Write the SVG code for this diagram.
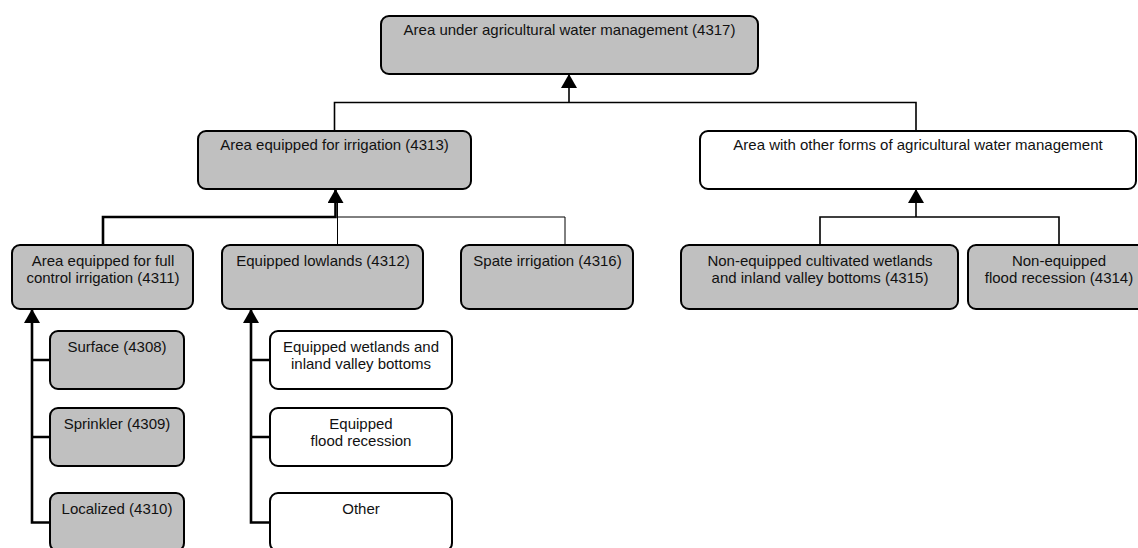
<svg xmlns="http://www.w3.org/2000/svg" width="1138" height="548" viewBox="0 0 1138 548">
  <defs>
    <marker id="arrow" markerUnits="userSpaceOnUse" markerWidth="16" markerHeight="16" viewBox="0 0 14 16" refX="14" refY="8" orient="auto">
      <path d="M0,0 L14,8 L0,16 z" fill="#000"/>
    </marker>
    <style>
      .box { stroke: #000; stroke-width: 2; }
      .gray { fill: #c0c0c0; }
      .white { fill: #ffffff; }
      text { font-family: "Liberation Sans", Arial, sans-serif; font-size: 15px; fill: #111; text-anchor: middle; }
      .c1 { fill: none; stroke: #000; stroke-width: 1; }
      .c2 { fill: none; stroke: #000; stroke-width: 1.6; }
      .c3 { fill: none; stroke: #000; stroke-width: 2.6; }
    </style>
  </defs>
  <rect width="1138" height="548" fill="#fff"/>

  <g id="connectors">
    <path class="c2" d="M334.5,131 V102.5 H916 V131"/>
    <path class="c2" d="M569,102.5 V74" marker-end="url(#arrow)"/>
    <path class="c1" d="M565,245 V217 H337.5"/>
    <path class="c1" d="M337.5,245 V203"/>
    <path class="c3" d="M103,245 V217 H335.5 V189" marker-end="url(#arrow)"/>
    <path class="c2" d="M820,245 V217 H1059 V245"/>
    <path class="c2" d="M916,217 V189" marker-end="url(#arrow)"/>
    <path class="c3" d="M50,522.5 H32 V309" marker-end="url(#arrow)"/>
    <path class="c3" d="M32,360 H50 M32,437 H50"/>
    <path class="c3" d="M270,522.5 H251 V309" marker-end="url(#arrow)"/>
    <path class="c3" d="M251,360 H270 M251,437 H270"/>
  </g>

  <g id="n4317">
    <rect class="box gray" x="381" y="16" width="377" height="58" rx="8"/>
    <text x="569.5" y="35">Area under agricultural water management (4317)</text>
  </g>
  <g id="n4313">
    <rect class="box gray" x="198" y="131" width="273" height="58" rx="8"/>
    <text x="334.5" y="150">Area equipped for irrigation (4313)</text>
  </g>
  <g id="nother">
    <rect class="box white" x="700" y="131" width="436" height="58" rx="8"/>
    <text x="918" y="150">Area with other forms of agricultural water management</text>
  </g>
  <g id="n4311">
    <rect class="box gray" x="12" y="245" width="181" height="64" rx="8"/>
    <text x="103" y="266">Area equipped for full</text>
    <text x="103" y="283">control irrigation (4311)</text>
  </g>
  <g id="n4312">
    <rect class="box gray" x="222" y="245" width="201" height="64" rx="8"/>
    <text x="323" y="266">Equipped lowlands (4312)</text>
  </g>
  <g id="n4316">
    <rect class="box gray" x="461" y="245" width="172" height="64" rx="8"/>
    <text x="547.5" y="266">Spate irrigation (4316)</text>
  </g>
  <g id="n4315">
    <rect class="box gray" x="681" y="245" width="277" height="64" rx="8"/>
    <text x="820" y="266">Non-equipped cultivated wetlands</text>
    <text x="820" y="283">and inland valley bottoms (4315)</text>
  </g>
  <g id="n4314">
    <rect class="box gray" x="968" y="245" width="182" height="64" rx="8"/>
    <text x="1059" y="266">Non-equipped</text>
    <text x="1059" y="283">flood recession (4314)</text>
  </g>
  <g id="n4308">
    <rect class="box gray" x="50" y="331" width="134" height="58" rx="8"/>
    <text x="117" y="352">Surface (4308)</text>
  </g>
  <g id="n4309">
    <rect class="box gray" x="50" y="408" width="134" height="58" rx="8"/>
    <text x="117" y="428.5">Sprinkler (4309)</text>
  </g>
  <g id="n4310">
    <rect class="box gray" x="50" y="493" width="134" height="58" rx="8"/>
    <text x="117" y="513.5">Localized (4310)</text>
  </g>
  <g id="nwetlands">
    <rect class="box white" x="270" y="331" width="182" height="58" rx="8"/>
    <text x="361" y="352">Equipped wetlands and</text>
    <text x="361" y="368.5">inland valley bottoms</text>
  </g>
  <g id="nflood">
    <rect class="box white" x="270" y="408" width="182" height="58" rx="8"/>
    <text x="361" y="429">Equipped</text>
    <text x="361" y="446">flood recession</text>
  </g>
  <g id="nother2">
    <rect class="box white" x="270" y="493" width="182" height="58" rx="8"/>
    <text x="361" y="513.5">Other</text>
  </g>
</svg>
